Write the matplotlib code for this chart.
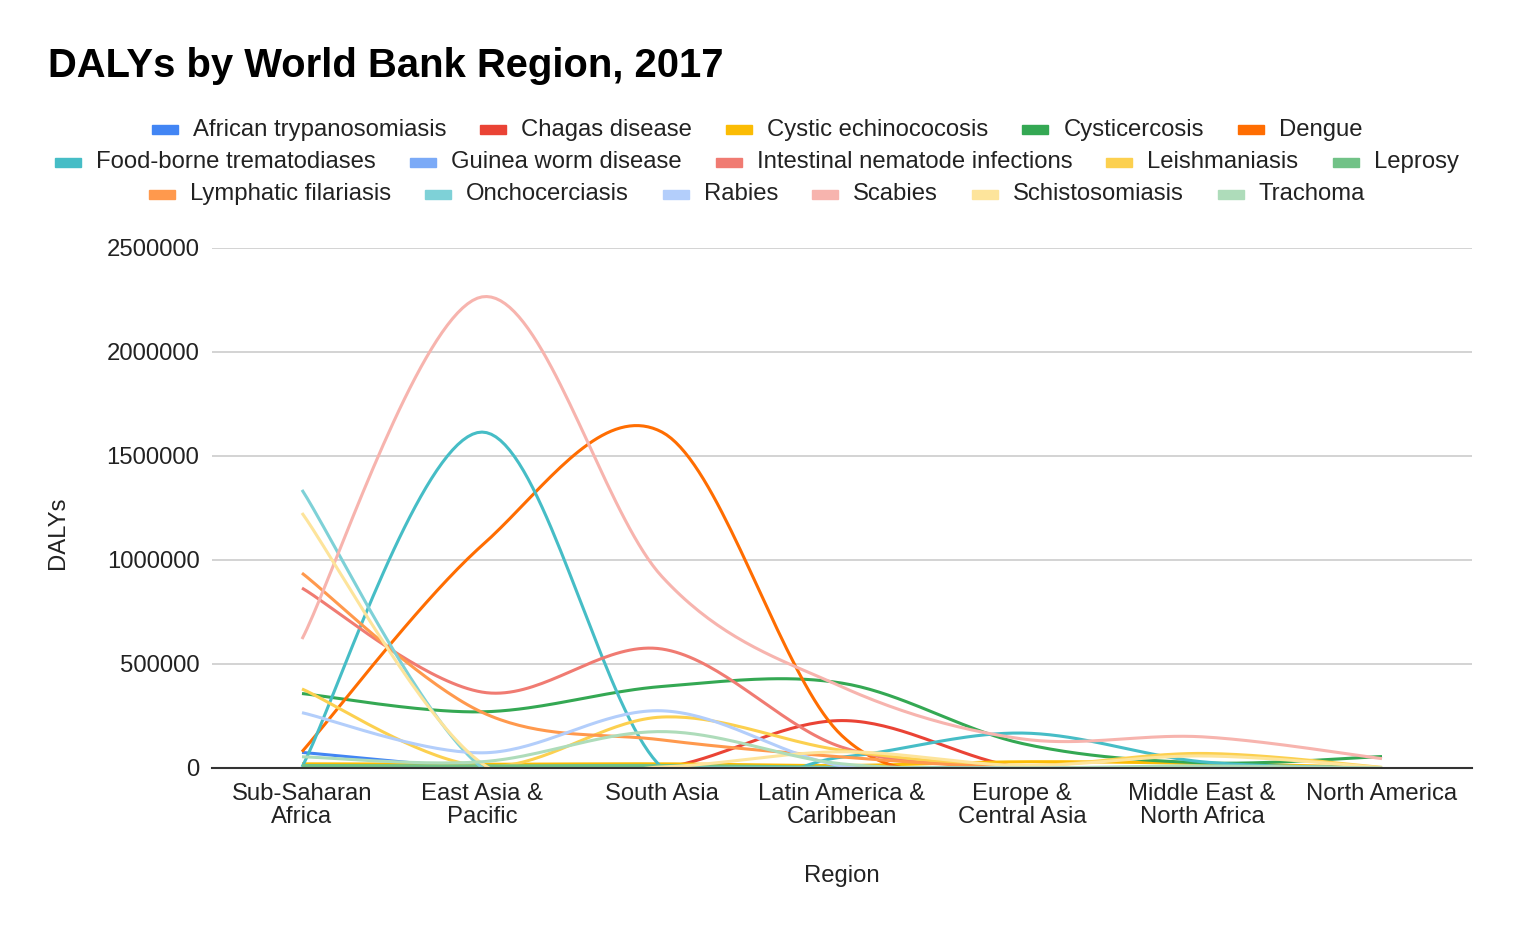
import matplotlib
matplotlib.use("Agg")
import matplotlib.pyplot as plt
from matplotlib.patches import Rectangle
import numpy as np

plt.rcParams['font.family'] = ['Liberation Sans', 'DejaVu Sans']

regions = ["Sub-Saharan\nAfrica", "East Asia &\nPacific", "South Asia",
           "Latin America &\nCaribbean", "Europe &\nCentral Asia",
           "Middle East &\nNorth Africa", "North America"]

# DALYs per disease, one value per region (in the order above)
african_tryp = [75000, 2000, 500, 500, 0, 0, 0]
chagas = [0, 0, 0, 228000, 1000, 0, 1000]
cystic_echino = [20000, 18000, 20000, 12000, 30000, 22000, 2000]
cysticercosis = [358000, 270000, 392000, 408000, 118000, 25000, 55000]
dengue = [78000, 1070000, 1615000, 155000, 2000, 1000, 1000]
foodborne = [5000, 1615000, 2000, 52000, 168000, 30000, 1000]
guinea_worm = [500, 0, 0, 0, 0, 0, 0]
intestinal = [865000, 365000, 572000, 100000, 8000, 5000, 1000]
leishmaniasis = [380000, 8000, 245000, 85000, 12000, 70000, 3000]
leprosy = [12000, 10000, 12000, 3000, 500, 1000, 100]
lymphatic = [937000, 268000, 135000, 53000, 1000, 2000, 0]
onchocerciasis = [1337000, 2000, 0, 1000, 0, 500, 0]
rabies = [266000, 73000, 275000, 10000, 2000, 3000, 100]
scabies = [620000, 2265000, 920000, 390000, 140000, 150000, 45000]
schisto = [1226000, 22000, 5000, 78000, 12000, 58000, 2000]
trachoma = [54000, 30000, 175000, 20000, 1000, 10000, 0]

names = ["African trypanosomiasis", "Chagas disease", "Cystic echinococosis",
         "Cysticercosis", "Dengue", "Food-borne trematodiases",
         "Guinea worm disease", "Intestinal nematode infections",
         "Leishmaniasis", "Leprosy", "Lymphatic filariasis", "Onchocerciasis",
         "Rabies", "Scabies", "Schistosomiasis", "Trachoma"]
series = [african_tryp, chagas, cystic_echino, cysticercosis, dengue, foodborne,
          guinea_worm, intestinal, leishmaniasis, leprosy, lymphatic,
          onchocerciasis, rabies, scabies, schisto, trachoma]
colors = ["#4285F4", "#EA4335", "#FBBC04", "#34A853", "#FF6D01", "#46BDC6",
          "#7BAAF7", "#F07B72", "#FCD04F", "#71C287", "#FF994D", "#7ED1D7",
          "#B3CEFB", "#F7B4AE", "#FDE49B", "#AEDCBA"]


def smooth(xs, ys, steps=40):
    # Catmull-Rom style bezier through the points
    p = np.column_stack([xs, ys]).astype(float)
    n = len(p)
    out = []
    for i in range(n - 1):
        p0 = p[max(i - 1, 0)]
        p1 = p[i]
        p2 = p[i + 1]
        p3 = p[min(i + 2, n - 1)]
        c1 = p1 + (p2 - p0) / 6
        c2 = p2 - (p3 - p1) / 6
        t = np.linspace(0, 1, steps)[:, None]
        seg = ((1 - t) ** 3) * p1 + 3 * ((1 - t) ** 2) * t * c1 + 3 * (1 - t) * t ** 2 * c2 + t ** 3 * p2
        out.append(seg if i == 0 else seg[1:])
    out = np.vstack(out)
    return out[:, 0], out[:, 1]


FS = 17.2
fig = plt.figure(figsize=(15.19, 9.36), dpi=100)
W, H = 1519, 936
ax = fig.add_axes([212 / W, 1 - 768 / H, 1260 / W, 520 / H])

x = np.arange(len(regions))
for vals, c in zip(series, colors):
    sx, sy = smooth(x, vals)
    ax.plot(sx, sy, color=c, lw=2.2, solid_capstyle='butt', clip_on=True)

ax.set_xlim(-0.5, len(regions) - 0.5)
ax.set_ylim(0, 2500000)
ax.set_yticks(np.arange(0, 2500001, 500000))
ax.set_yticklabels([str(v) for v in range(0, 2500001, 500000)], fontsize=FS, color="#222222")
ax.set_xticks(x)
ax.set_xticklabels(regions, fontsize=FS, color="#222222", linespacing=1.05)
ax.tick_params(axis='y', length=0, pad=9)
ax.tick_params(axis='x', length=0, pad=11)
ax.grid(axis='y', color="#cccccc", lw=1.2)
ax.set_axisbelow(True)
for s in ["top", "right", "left"]:
    ax.spines[s].set_visible(False)
ax.spines["bottom"].set_color("#333333")
ax.spines["bottom"].set_linewidth(1.5)
ax.spines["bottom"].set_zorder(5)

fig.text(842 / W, 1 - 876 / H, "Region", ha="center", va="center", fontsize=FS, color="#222222")
fig.text(58 / W, 1 - 533 / H, "DALYs", ha="center", va="center", rotation=90, fontsize=FS, color="#222222")
fig.text(48 / W, 1 - 66 / H, "DALYs by World Bank Region, 2017", ha="left", va="center",
         fontsize=28.8, fontweight="bold", color="#000000")

# legend: three centred rows
rows = [names[0:5], names[5:10], names[10:16]]
row_y = [130, 162, 194]
renderer = fig.canvas.get_renderer()
idx = 0
for row, yy in zip(rows, row_y):
    texts = []
    widths = []
    for nm in row:
        t = fig.text(0, 1 - yy / H, nm, ha="left", va="center", fontsize=FS, color="#222222")
        texts.append(t)
        widths.append(t.get_window_extent(renderer).width)
    mw, gap, sep = 26, 15, 34
    total = sum(mw + gap + w for w in widths) + sep * (len(row) - 1)
    xs = 757 - total / 2
    for t, w in zip(texts, widths):
        fig.patches.append(Rectangle((xs / W, 1 - (yy + 4.5) / H), mw / W, 9 / H,
                                     transform=fig.transFigure, color=colors[idx], figure=fig))
        t.set_x((xs + mw + gap) / W)
        xs += mw + gap + w + sep
        idx += 1

fig.savefig("out.png", dpi=100)
